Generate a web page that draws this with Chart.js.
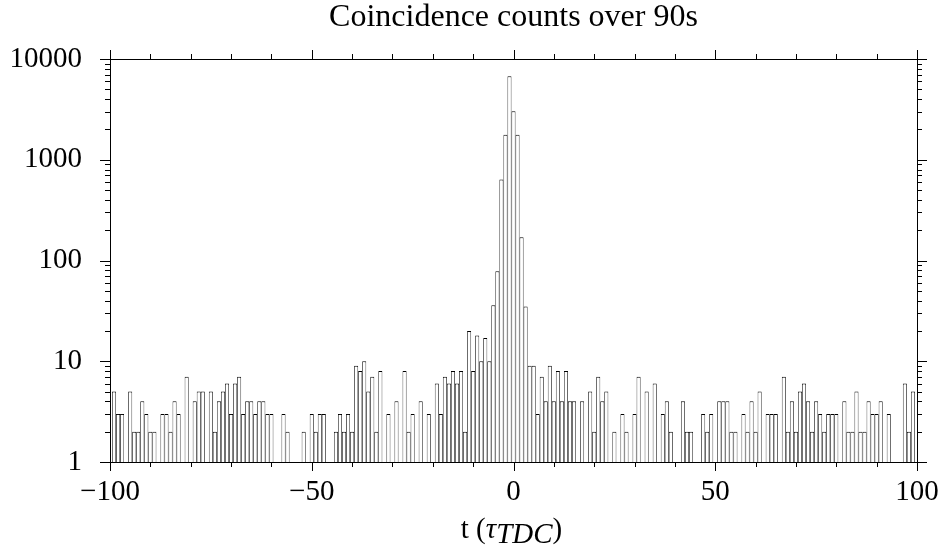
<!DOCTYPE html>
<html>
<head>
<meta charset="utf-8">
<script src="https://cdn.jsdelivr.net/npm/chart.js@4.4.1/dist/chart.umd.min.js"></script>
<style>
  body { margin: 0; background: #fff; }
  #wrap { width: 941px; height: 549px; }
</style>
</head>
<body>
<div id="wrap"><canvas id="canvas" width="941" height="549"></canvas></div>
<script>
// histogram bins are 1 tau wide, centred on integers starting at firstBin
const firstBin = -99;
const countsFarLeft = [5, 3, 3, 1, 5, 2, 2, 4, 3, 2, 2, 1, 3, 3, 2, 4, 3, 1, 7, 1, 4, 5, 5, 1, 5, 2, 4, 5, 6, 3, 6, 7]; // -99..-68
const countsLeft = [3, 4, 4, 3, 4, 4, 3, 3, 1, 1, 3, 2, 1, 1, 1, 2, 1, 3, 2, 3, 3, 1, 1, 2, 3, 2, 3, 2, 9, 8, 10, 5, 7, 2]; // -67..-34
const countsNearLeft = [8, 1, 3, 1, 4, 1, 8, 2, 3, 1, 4, 1, 3, 1, 6, 3, 7, 6, 8, 6, 8, 2, 20, 8, 18, 10, 17, 10]; // -33..-6
const countsPeak = [36, 78, 636, 1770, 6730, 3030, 1770, 170, 35]; // -5..3
const countsNearRight = [9, 9, 3, 7, 4, 9, 4, 8, 4, 8, 4, 4, 1, 4, 1, 5, 2, 7, 4, 5, 1, 2, 1, 3, 2, 1, 3, 7, 1, 5]; // 4..33
const countsRight = [1, 6, 1, 3, 4, 2, 1, 1, 4, 2, 2, 1, 1, 3, 2, 3, 1, 4, 4, 4, 2, 2, 1, 3, 2, 4, 2, 5, 1, 3, 3, 3, 1]; // 34..66
const countsFarRight = [7, 2, 4, 2, 5, 6, 4, 2, 4, 3, 2, 3, 3, 3, 1, 4, 2, 2, 5, 2, 2, 4, 3, 3, 4, 1, 3, 1, 1, 1, 6, 2, 5]; // 67..99

const xTicks = [-100, -50, 0, 50, 100];
const yTicks = [1, 10, 100, 1000, 10000];
const chartTitle = "Coincidence counts over 90s";

const counts = [].concat(countsFarLeft, countsLeft, countsNearLeft, countsPeak,
  countsNearRight, countsRight, countsFarRight);
const points = counts.map((c, i) => ({ x: firstBin + i, y: c }));

const serif = "'Liberation Serif', 'Times New Roman', serif";

// tick marks outside the frame, long on labelled values, short on minors
const frameTicks = {
  id: "frameTicks",
  afterDraw(chart) {
    const { ctx, chartArea: a, scales } = chart;
    ctx.save();
    ctx.strokeStyle = "#000";
    ctx.lineWidth = 1;
    ctx.beginPath();
    for (let v = xTicks[0]; v <= xTicks[xTicks.length - 1]; v += 10) {
      const len = xTicks.includes(v) ? 9 : 5;
      const px = Math.round(scales.x.getPixelForValue(v)) + 0.5;
      ctx.moveTo(px, a.bottom);
      ctx.lineTo(px, a.bottom + len);
      ctx.moveTo(px, a.top);
      ctx.lineTo(px, a.top - len);
    }
    for (const d of yTicks) {
      for (let m = 1; m <= 9; m++) {
        const v = d * m;
        if (v > yTicks[yTicks.length - 1]) break;
        const len = m === 1 ? 10 : 5;
        const py = Math.round(scales.y.getPixelForValue(v)) + 0.5;
        ctx.moveTo(a.left, py);
        ctx.lineTo(a.left - len, py);
        ctx.moveTo(a.right, py);
        ctx.lineTo(a.right + len, py);
      }
    }
    ctx.stroke();

    // x axis title with italic tau and subscript
    const parts = [
      { text: "t (", font: "29px " + serif, dy: 0 },
      { text: "\u03C4", font: "italic 29px " + serif, dy: 0 },
      { text: "TDC", font: "italic 29px " + serif, dy: 5 },
      { text: ")", font: "29px " + serif, dy: 0 }
    ];
    let total = 0;
    parts.forEach(p => { ctx.font = p.font; p.w = ctx.measureText(p.text).width; total += p.w; });
    let x = (a.left + a.right) / 2 - 2 - total / 2;
    const base = 538;
    ctx.fillStyle = "#000";
    ctx.textBaseline = "alphabetic";
    ctx.textAlign = "left";
    parts.forEach(p => {
      ctx.font = p.font;
      ctx.fillText(p.text, x, base + p.dy);
      x += p.w;
    });
    ctx.restore();
  }
};

const minus = v => (v < 0 ? "\u2212" + Math.abs(v) : String(v));

new Chart(document.getElementById("canvas").getContext("2d"), {
  type: "bar",
  data: {
    datasets: [
      {
        label: "counts",
        data: points,
        backgroundColor: "#ffffff",
        borderColor: "#000000",
        borderWidth: { top: 1, left: 0.75, right: 0.75, bottom: 0 },
        borderSkipped: "start",
        inflateAmount: 0,
        barPercentage: 1,
        categoryPercentage: 1,
        clip: 0
      }
    ]
  },
  plugins: [frameTicks],
  options: {
    responsive: false,
    animation: false,
    devicePixelRatio: 1,
    layout: { padding: 0 },
    plugins: {
      legend: { display: false },
      tooltip: { enabled: false },
      title: { display: false }
    },
    scales: {
      x: {
        type: "linear",
        position: "bottom",
        min: -100,
        max: 100,
        offset: false,
        grid: { display: false, drawTicks: false, offset: false },
        border: { display: true, color: "#000", width: 1 },
        afterFit: s => { s.height = 87; s.paddingLeft = 0; s.paddingRight = 0; },
        afterBuildTicks: s => { s.ticks = xTicks.map(v => ({ value: v })); },
        ticks: {
          autoSkip: false,
          maxRotation: 0,
          padding: 13,
          color: "#000",
          font: { family: serif, size: 29 },
          callback: v => minus(v)
        }
      },
      x2: {
        type: "linear",
        position: "top",
        min: -100,
        max: 100,
        offset: false,
        grid: { display: false, drawTicks: false },
        border: { display: true, color: "#000", width: 1 },
        ticks: { display: false },
        afterFit: s => { s.height = 59; s.paddingLeft = 0; s.paddingRight = 0; },
        title: {
          display: true,
          text: chartTitle,
          color: "#000",
          padding: { top: 0, bottom: 0 },
          font: { family: serif, size: 32, lineHeight: 1.1 }
        }
      },
      y: {
        type: "logarithmic",
        position: "left",
        min: 1,
        max: 10000,
        grid: { display: false, drawTicks: false },
        border: { display: true, color: "#000", width: 1 },
        afterFit: s => { s.width = 110; },
        afterBuildTicks: s => { s.ticks = yTicks.map(v => ({ value: v })); },
        ticks: {
          autoSkip: false,
          padding: 28,
          color: "#000",
          font: { family: serif, size: 29 },
          callback: v => String(v)
        }
      },
      y2: {
        type: "logarithmic",
        position: "right",
        min: 1,
        max: 10000,
        grid: { display: false, drawTicks: false },
        border: { display: true, color: "#000", width: 1 },
        ticks: { display: false },
        afterFit: s => { s.width = 24; }
      }
    }
  }
});
</script>
</body>
</html>
